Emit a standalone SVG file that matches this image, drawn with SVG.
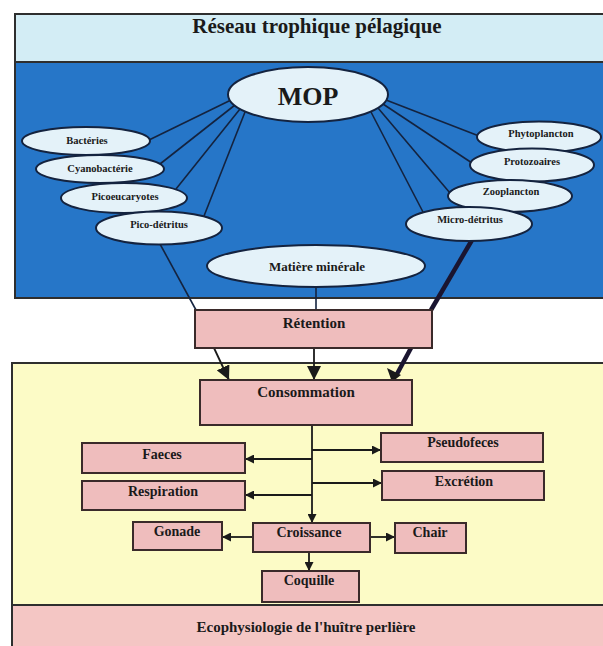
<svg xmlns="http://www.w3.org/2000/svg" width="603" height="646" viewBox="0 0 603 646">
<style>
text{font-family:"Liberation Serif","Times New Roman",serif;font-weight:bold;fill:#1a1a1a;text-anchor:middle}
.region{stroke:#2e2e2e;stroke-width:2}
.ell{fill:#e4f2f9;stroke:#14233f;stroke-width:2}
.box{fill:#efbdbd;stroke:#3a2a2a;stroke-width:2}
.ln{stroke:#14233f;stroke-width:1.6;fill:none}
.ln2{stroke:#1a1a1a;stroke-width:1.8;fill:none}
.thick{stroke:#1a1530;stroke-width:4.5;fill:none}
.el{font-size:10.5px}
.bl{font-size:14px}
</style>
<defs>
<marker id="ah" viewBox="0 0 10 10" refX="10" refY="5" markerWidth="14" markerHeight="14" markerUnits="userSpaceOnUse" orient="auto"><path d="M0,0 L10,5 L0,10 z" fill="#1a1a1a"/></marker>
<marker id="ahs" viewBox="0 0 10 10" refX="10" refY="5" markerWidth="9" markerHeight="9" markerUnits="userSpaceOnUse" orient="auto"><path d="M0,0 L10,5 L0,10 z" fill="#1a1a1a"/></marker>
</defs>

<g id="regions">
<rect class="region" x="15" y="62" width="600" height="236" fill="#2676c8"/>
<rect class="region" x="15" y="14" width="600" height="48" fill="#d3edf5"/>
<rect class="region" x="12" y="363" width="603" height="242" fill="#fcfbc6"/>
<rect class="region" x="12" y="605" width="603" height="50" fill="#f4c6c4"/>
<text x="317" y="33" style="font-size:21px">Réseau trophique pélagique</text>
<text x="306" y="632" style="font-size:15px">Ecophysiologie de l'huître perlière</text>
</g>

<g id="connectors">
<line class="ln" x1="231" y1="100" x2="149" y2="140"/>
<line class="ln" x1="235" y1="105" x2="160" y2="164"/>
<line class="ln" x1="240" y1="109" x2="176" y2="189"/>
<line class="ln" x1="245" y1="112" x2="204" y2="216"/>
<line class="ln" x1="386" y1="100" x2="479" y2="136"/>
<line class="ln" x1="383" y1="104" x2="472" y2="163"/>
<line class="ln" x1="378" y1="108" x2="450" y2="193"/>
<line class="ln" x1="371" y1="112" x2="423" y2="212"/>
<line class="ln" x1="160" y1="244" x2="196" y2="310"/>
<line class="ln" x1="316" y1="287" x2="316" y2="310"/>
<line class="thick" x1="472" y1="240" x2="431" y2="310"/>
<line class="ln2" x1="214" y1="348" x2="229" y2="380" marker-end="url(#ah)"/>
<line class="ln2" x1="314" y1="348" x2="314" y2="380" marker-end="url(#ah)"/>
<line class="thick" x1="411" y1="348" x2="397" y2="374"/>
<path d="M387,368 L401,375 L392,382 z" fill="#1a1a1a"/>
<line class="ln2" x1="312" y1="425" x2="312" y2="523" marker-end="url(#ahs)"/>
<line class="ln2" x1="312" y1="459" x2="245" y2="459" marker-end="url(#ahs)"/>
<line class="ln2" x1="312" y1="495" x2="245" y2="495" marker-end="url(#ahs)"/>
<line class="ln2" x1="312" y1="450" x2="381" y2="450" marker-end="url(#ahs)"/>
<line class="ln2" x1="312" y1="483" x2="382" y2="483" marker-end="url(#ahs)"/>
<line class="ln2" x1="253" y1="537" x2="222" y2="537" marker-end="url(#ahs)"/>
<line class="ln2" x1="370" y1="537" x2="395" y2="537" marker-end="url(#ahs)"/>
<line class="ln2" x1="309" y1="552" x2="309" y2="571" marker-end="url(#ahs)"/>
</g>

<g id="mop"><ellipse class="ell" cx="308" cy="94.5" rx="80" ry="27.5"/><text x="308" y="105" style="font-size:26px">MOP</text></g>
<g id="bacteries"><ellipse class="ell" cx="86" cy="141" rx="64" ry="14"/><text class="el" x="87" y="144">Bactéries</text></g>
<g id="cyanobacterie"><ellipse class="ell" cx="100" cy="169" rx="64" ry="14"/><text class="el" x="100" y="172">Cyanobactérie</text></g>
<g id="picoeucaryotes"><ellipse class="ell" cx="124" cy="198" rx="63" ry="15"/><text class="el" x="125" y="200">Picoeucaryotes</text></g>
<g id="picodetritus"><ellipse class="ell" cx="159" cy="228" rx="63" ry="16.5"/><text class="el" x="159" y="228">Pico-détritus</text></g>
<g id="phytoplancton"><ellipse class="ell" cx="539" cy="137" rx="62" ry="15.5"/><text class="el" x="541" y="137">Phytoplancton</text></g>
<g id="protozoaires"><ellipse class="ell" cx="532" cy="165" rx="62" ry="16.5"/><text class="el" x="532" y="165">Protozoaires</text></g>
<g id="zooplancton"><ellipse class="ell" cx="510" cy="196" rx="62" ry="16"/><text class="el" x="511" y="195">Zooplancton</text></g>
<g id="microdetritus"><ellipse class="ell" cx="469" cy="224" rx="63" ry="17"/><text class="el" x="470" y="223">Micro-détritus</text></g>
<g id="matiere"><ellipse class="ell" cx="316" cy="266" rx="109" ry="21"/><text x="317" y="271" style="font-size:13px">Matière minérale</text></g>

<g id="retention"><rect class="box" x="195" y="310" width="237" height="38"/><text x="314" y="328" style="font-size:15px">Rétention</text></g>
<g id="consommation"><rect class="box" x="200" y="380" width="212" height="45"/><text x="306" y="397" style="font-size:15px">Consommation</text></g>
<g id="pseudofeces"><rect class="box" x="381" y="433" width="162" height="29"/><text class="bl" x="463" y="447">Pseudofeces</text></g>
<g id="faeces"><rect class="box" x="82" y="443" width="163" height="30"/><text class="bl" x="162" y="459">Faeces</text></g>
<g id="excretion"><rect class="box" x="382" y="471" width="162" height="29"/><text class="bl" x="464" y="486">Excrétion</text></g>
<g id="respiration"><rect class="box" x="82" y="481" width="163" height="29"/><text class="bl" x="163" y="496">Respiration</text></g>
<g id="gonade"><rect class="box" x="133" y="522" width="89" height="28"/><text class="bl" x="177" y="536">Gonade</text></g>
<g id="croissance"><rect class="box" x="253" y="523" width="117" height="29"/><text class="bl" x="309" y="537">Croissance</text></g>
<g id="chair"><rect class="box" x="395" y="523" width="71" height="30"/><text class="bl" x="430" y="537">Chair</text></g>
<g id="coquille"><rect class="box" x="262" y="571" width="97" height="31"/><text class="bl" x="309" y="585">Coquille</text></g>
</svg>
